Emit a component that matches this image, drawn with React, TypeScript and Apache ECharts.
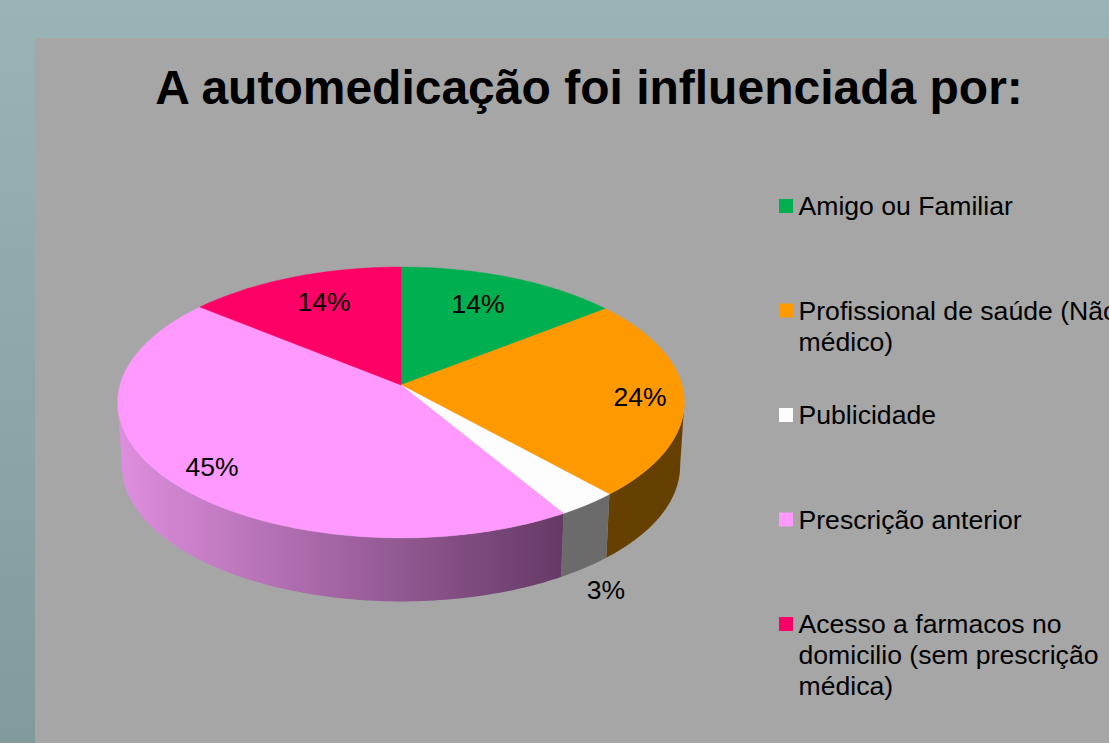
import React, { useEffect, useRef } from "react";
import * as echarts from "echarts";

const titleText = "A automedicação foi influenciada por:";
const categories = [
  "Amigo ou Familiar",
  "Profissional de saúde (Não\nmédico)",
  "Publicidade",
  "Prescrição anterior",
  "Acesso a farmacos no\ndomicilio (sem prescrição\nmédica)",
];
const values = [14.4, 23.9, 3.1, 44.5, 14.1];
const valueLabels = ["14%", "24%", "3%", "45%", "14%"];
const colors = ["#00b050", "#ff9900", "#fdfdfd", "#ff99ff", "#ff0066"];

const FONT = "'Liberation Sans', Arial, sans-serif";
const CX = 401, CY = 385, A = 281, B = 133.2, P = 0.129;
const DEPTH = 63.5, BOTTOM_SCALE = 0.985;
const WALL_FROM = 97.4, WALL_TO = 262.6;
const wallFills: any[] = [
  null,
  "#664000",
  "#6b6b6b",
  { type: "linear", x: 120, y: 0, x2: 560, y2: 0, global: true, colorStops: [
    { offset: 0, color: "#de8ede" }, { offset: 1, color: "#663a66" } ] },
  null,
];
const labelAt: [number, number][] = [[478, 304], [640, 397], [606, 590], [212, 467], [324, 302]];

function project(deg: number, r = 1): [number, number] {
  const t = (deg * Math.PI) / 180;
  const X = Math.sin(t) * r, Y = -Math.cos(t) * r;
  const w = 1 - P * Y;
  return [CX + (A * X) / w, CY + (B * Y) / w];
}
function lower(p: [number, number]): [number, number] {
  return [CX + (p[0] - CX) * BOTTOM_SCALE, p[1] + DEPTH];
}
function arc(a0: number, a1: number): [number, number][] {
  const pts: [number, number][] = [];
  const n = Math.max(2, Math.ceil(Math.abs(a1 - a0)));
  for (let i = 0; i <= n; i++) pts.push(project(a0 + ((a1 - a0) * i) / n));
  return pts;
}

export default function App() {
  const ref = useRef<HTMLDivElement>(null);
  useEffect(() => {
    document.body.style.margin = "0";
    document.body.style.overflow = "hidden";
    const chart = echarts.init(ref.current!, undefined, { renderer: "svg" });
    const total = values.reduce((a, b) => a + b, 0);
    const renderItem = (params: any, api: any) => {
      const i = params.dataIndex;
      let before = 0;
      for (let k = 0; k < i; k++) before += values[k];
      const a0 = (before / total) * 360;
      const a1 = ((before + api.value(0)) / total) * 360;
      const children: any[] = [];
      const w0 = Math.max(a0, WALL_FROM), w1 = Math.min(a1, WALL_TO);
      if (w1 > w0 && wallFills[i]) {
        const upper = arc(w0, w1);
        const low = upper.map(lower).reverse();
        children.push({
          type: "polygon",
          shape: { points: [...upper, ...low] },
          style: { fill: wallFills[i], stroke: "none" },
        });
      }
      children.push({
        type: "polygon",
        shape: { points: [[CX, CY], ...arc(a0, a1)] },
        style: { fill: colors[i], stroke: colors[i], lineWidth: 0.4 },
      });
      children.push({
        type: "text",
        z2: 50,
        style: {
          x: labelAt[i][0], y: labelAt[i][1],
          text: valueLabels[i], fill: "#000", font: `26.5px ${FONT}`,
          align: "center", verticalAlign: "middle",
        },
      });
      return { type: "group", children };
    };
    const legendEls: any[] = [];
    categories.forEach((c, i) => {
      const y = 206 + i * 104.5;
      legendEls.push({ type: "rect", shape: { x: 779, y: y - 7, width: 14, height: 14 }, style: { fill: colors[i] } });
      legendEls.push({
        type: "text", x: 798.5, y: y - 15.5,
        style: { text: c, fill: "#000", font: `26.6px ${FONT}`, lineHeight: 31, align: "left", verticalAlign: "top" },
      });
    });
    chart.setOption({
      animation: false,
      title: {
        text: titleText, left: 584, top: 58, textAlign: "center",
        textStyle: { fontFamily: FONT, fontSize: 48, fontWeight: "bold", color: "#000" },
      },
      graphic: {
        elements: [
          { type: "rect", z: -10, shape: { x: 0, y: 0, width: 1109, height: 743 },
            style: { fill: { type: "linear", x: 0, y: 0, x2: 0, y2: 1, colorStops: [
              { offset: 0, color: "#98b4b6" }, { offset: 1, color: "#7f9b9c" } ] } } },
          { type: "rect", z: -9, shape: { x: 35, y: 38, width: 1074, height: 705 }, style: { fill: "#a6a6a6" } },
          ...legendEls,
        ],
      },
      series: [{
        type: "custom", coordinateSystem: "none", z: 5,
        data: values.map((v, i) => ({ name: categories[i], value: [v] })),
        renderItem, silent: true,
      }],
    });
    return () => chart.dispose();
  }, []);
  return <div ref={ref} style={{ width: 1109, height: 743 }} />;
}
